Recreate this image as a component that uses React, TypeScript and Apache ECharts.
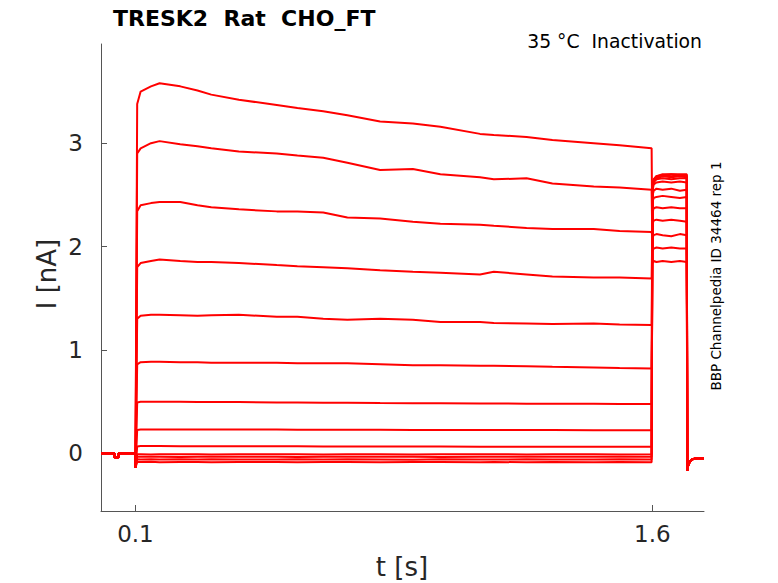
import React, { useEffect, useRef } from "react";
import * as echarts from "echarts";

// ---- data ----
const X_TICKS = [0.1, 1.6];
const Y_TICKS = [0, 1, 2, 3];

// holding period before the step (shared by all sweeps)
const PRE_T = [0, 0.039, 0.039, 0.051, 0.051, 0.1, 0.1];
const PRE_V = [0, 0, -0.04, -0.04, 0, 0, -0.14];

// sample times during the conditioning step
const STEP_T = [0.105, 0.115, 0.145, 0.17, 0.23, 0.28, 0.32, 0.4, 0.51, 0.57, 0.645, 0.715, 0.81, 0.905, 0.985, 1.1, 1.14, 1.235, 1.31, 1.43, 1.505, 1.598];

const S1 = [3.38, 3.5, 3.55, 3.58, 3.55, 3.51, 3.47, 3.42, 3.37, 3.34, 3.31, 3.27, 3.21, 3.19, 3.16, 3.09, 3.08, 3.06, 3.03, 3.0, 2.98, 2.95];
const S2 = [2.9, 2.95, 3.0, 3.02, 2.99, 2.97, 2.95, 2.92, 2.9, 2.88, 2.86, 2.81, 2.74, 2.75, 2.7, 2.67, 2.65, 2.66, 2.61, 2.58, 2.57, 2.55];
const S3 = [2.34, 2.4, 2.42, 2.43, 2.43, 2.4, 2.38, 2.36, 2.34, 2.34, 2.33, 2.28, 2.27, 2.24, 2.22, 2.21, 2.2, 2.18, 2.17, 2.17, 2.15, 2.14];
const S4 = [1.8, 1.84, 1.86, 1.875, 1.86, 1.85, 1.85, 1.84, 1.82, 1.81, 1.8, 1.79, 1.77, 1.755, 1.745, 1.73, 1.755, 1.73, 1.71, 1.7, 1.7, 1.69];
const S5 = [1.3, 1.33, 1.34, 1.34, 1.335, 1.33, 1.335, 1.34, 1.32, 1.32, 1.3, 1.29, 1.3, 1.29, 1.27, 1.27, 1.26, 1.255, 1.25, 1.255, 1.245, 1.24];
const S6 = [0.86, 0.88, 0.885, 0.885, 0.88, 0.88, 0.875, 0.875, 0.875, 0.87, 0.87, 0.87, 0.86, 0.85, 0.85, 0.845, 0.845, 0.84, 0.835, 0.83, 0.825, 0.82];
const S7 = [0.49, 0.497, 0.498, 0.497, 0.497, 0.496, 0.495, 0.495, 0.49, 0.49, 0.488, 0.488, 0.485, 0.483, 0.482, 0.48, 0.48, 0.479, 0.478, 0.477, 0.476, 0.475];
const S8 = [0.225, 0.229, 0.23, 0.23, 0.229, 0.229, 0.228, 0.228, 0.228, 0.227, 0.227, 0.226, 0.226, 0.225, 0.225, 0.224, 0.224, 0.223, 0.223, 0.222, 0.222, 0.222];
const S9 = [0.065, 0.068, 0.068, 0.068, 0.067, 0.067, 0.067, 0.066, 0.066, 0.066, 0.065, 0.065, 0.065, 0.064, 0.064, 0.063, 0.063, 0.062, 0.062, 0.062, 0.061, 0.061];
const S10 = [-0.01, -0.01, -0.012, -0.01, -0.011, -0.01, -0.012, -0.01, -0.011, -0.01, -0.012, -0.011, -0.01, -0.012, -0.01, -0.011, -0.01, -0.012, -0.011, -0.01, -0.012, -0.011];
const S11 = [-0.035, -0.036, -0.034, -0.035, -0.037, -0.035, -0.034, -0.036, -0.035, -0.037, -0.035, -0.034, -0.036, -0.035, -0.037, -0.035, -0.036, -0.034, -0.035, -0.036, -0.035, -0.035];
const S12 = [-0.06, -0.061, -0.059, -0.062, -0.06, -0.061, -0.06, -0.062, -0.061, -0.06, -0.062, -0.06, -0.061, -0.063, -0.06, -0.061, -0.062, -0.06, -0.061, -0.062, -0.06, -0.061];
const S13 = [-0.085, -0.086, -0.084, -0.087, -0.085, -0.086, -0.088, -0.085, -0.086, -0.087, -0.085, -0.086, -0.088, -0.086, -0.085, -0.087, -0.086, -0.088, -0.085, -0.087, -0.086, -0.087];

// test pulse (tail) after the step
const TAIL_T = [1.6005, 1.604, 1.612, 1.63, 1.655, 1.68, 1.7];
const T1 = [1.84, 1.86, 1.85, 1.86, 1.85, 1.86, 1.85];
const T2 = [1.96, 1.98, 1.99, 1.98, 1.99, 1.98, 1.98];
const T3 = [2.09, 2.11, 2.12, 2.11, 2.1, 2.12, 2.11];
const T4 = [2.22, 2.25, 2.26, 2.25, 2.26, 2.25, 2.24];
const T5 = [2.33, 2.37, 2.38, 2.37, 2.38, 2.37, 2.37];
const T6 = [2.43, 2.47, 2.48, 2.49, 2.48, 2.47, 2.48];
const T7 = [2.49, 2.54, 2.56, 2.55, 2.56, 2.54, 2.55];
const T8 = [2.54, 2.6, 2.62, 2.63, 2.62, 2.63, 2.62];
const T9 = [2.56, 2.62, 2.65, 2.66, 2.65, 2.66, 2.66];
const T10 = [2.57, 2.63, 2.66, 2.68, 2.67, 2.68, 2.67];
const T11 = [2.58, 2.64, 2.67, 2.69, 2.68, 2.69, 2.68];
const T12 = [2.58, 2.65, 2.68, 2.69, 2.7, 2.69, 2.69];
const T13 = [2.59, 2.65, 2.68, 2.7, 2.7, 2.7, 2.7];

// return to holding potential
const POST_T = [1.7015, 1.704, 1.709, 1.716, 1.73, 1.75];
const POST_V = [-0.17, -0.12, -0.08, -0.06, -0.05, -0.05];

const STEPS = [S1, S2, S3, S4, S5, S6, S7, S8, S9, S10, S11, S12, S13];
const TAILS = [T1, T2, T3, T4, T5, T6, T7, T8, T9, T10, T11, T12, T13];

const FONT = "DejaVu Sans";
const TEXT = "#262626";
const RED = "#ff0000";
const AXIS = "#555555";

function sweepData(step: number[], tail: number[]): number[][] {
  const pts: number[][] = [];
  PRE_T.forEach((t, i) => pts.push([t, PRE_V[i]]));
  STEP_T.forEach((t, i) => pts.push([t, step[i]]));
  TAIL_T.forEach((t, i) => pts.push([t, tail[i]]));
  POST_T.forEach((t, i) => pts.push([t, POST_V[i]]));
  return pts;
}

export default function App() {
  const ref = useRef<HTMLDivElement>(null);
  useEffect(() => {
    if (!ref.current) return;
    const chart = echarts.init(ref.current, null, { renderer: "svg" });
    const series = STEPS.map((s, i) => ({
      type: "line",
      data: sweepData(s, TAILS[i]),
      symbol: "none",
      silent: true,
      lineStyle: { color: RED, width: 2 },
    }));
    chart.setOption({
      animation: false,
      backgroundColor: "#ffffff",
      grid: { left: 101, top: 44, width: 603, height: 467, containLabel: false },
      xAxis: {
        type: "value",
        min: 0,
        max: 1.75,
        axisLine: { show: true, onZero: false, lineStyle: { color: AXIS, width: 1 } },
        axisTick: { show: true, inside: true, length: 6, customValues: X_TICKS, lineStyle: { color: AXIS } },
        axisLabel: {
          customValues: X_TICKS,
          formatter: (v: number) => v.toFixed(1),
          color: TEXT,
          fontFamily: FONT,
          fontSize: 23,
          margin: 11,
        },
        splitLine: { show: false },
      },
      yAxis: {
        type: "value",
        min: -0.56,
        max: 3.96,
        axisLine: { show: true, onZero: false, lineStyle: { color: AXIS, width: 1 } },
        axisTick: { show: true, inside: true, length: 6, customValues: Y_TICKS, lineStyle: { color: AXIS } },
        axisLabel: {
          customValues: Y_TICKS,
          formatter: (v: number) => String(v),
          color: TEXT,
          fontFamily: FONT,
          fontSize: 23,
          margin: 18,
        },
        splitLine: { show: false },
      },
      graphic: [
        {
          type: "text",
          x: 113,
          y: 18,
          style: { text: "TRESK2  Rat  CHO_FT", font: `bold 22px '${FONT}'`, fill: "#000", align: "left", verticalAlign: "middle" },
        },
        {
          type: "text",
          x: 702,
          y: 41,
          style: { text: "35 °C  Inactivation", font: `18.8px '${FONT}'`, fill: "#000", align: "right", verticalAlign: "middle" },
        },
        {
          type: "text",
          x: 47,
          y: 274,
          rotation: Math.PI / 2,
          style: { text: "I [nA]", font: `26px '${FONT}'`, fill: TEXT, align: "center", verticalAlign: "middle" },
        },
        {
          type: "text",
          x: 402,
          y: 567,
          style: { text: "t [s]", font: `26px '${FONT}'`, fill: TEXT, align: "center", verticalAlign: "middle" },
        },
        {
          type: "text",
          x: 716,
          y: 276,
          rotation: Math.PI / 2,
          style: { text: "BBP Channelpedia ID 34464 rep 1", font: `13.5px '${FONT}'`, fill: "#000", align: "center", verticalAlign: "middle" },
        },
      ],
      series,
    });
    return () => chart.dispose();
  }, []);
  return <div ref={ref} style={{ position: "fixed", left: 0, top: 0, width: 778, height: 583 }} />;
}
